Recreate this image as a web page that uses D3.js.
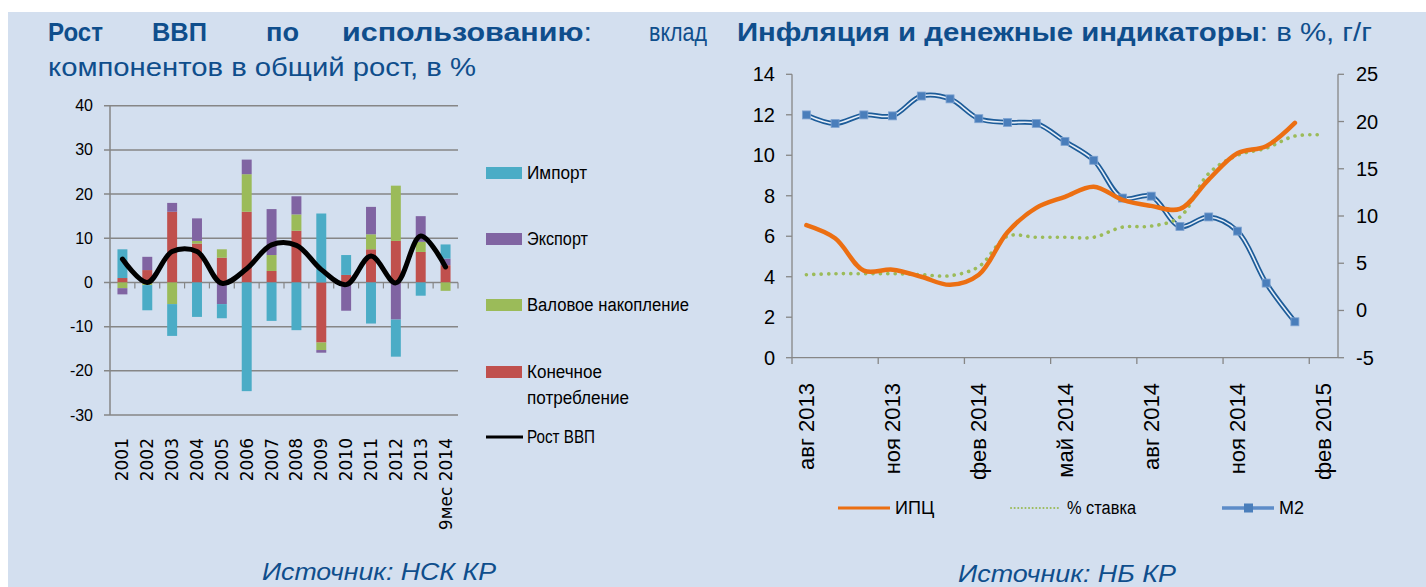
<!DOCTYPE html>
<html><head><meta charset="utf-8">
<script src="https://cdn.jsdelivr.net/npm/d3@7"></script>
<style>body{margin:0;background:#fff;overflow:hidden}</style>
</head><body>
<svg id="c" width="1426" height="587"></svg>
<script>
// ---------- Left chart data ----------
const years = ["2001","2002","2003","2004","2005","2006","2007","2008","2009","2010","2011","2012","2013","9мес 2014"];
const consumption  = [1.0, 2.8, 16.0, 8.8, 5.6, 16.0, 2.6, 11.7, -13.6, 1.7, 7.5, 9.4, 6.9, 3.9];
const accumulation = [-1.3, -0.6, -4.9, 0.6, 1.9, 8.5, 3.6, 3.7, -1.7, 0.0, 3.4, 12.5, 2.3, -1.9];
const exportC      = [-1.4, 3.0, 2.0, 5.1, -4.9, 3.3, 10.4, 4.1, -0.6, -6.4, 6.2, -8.4, 5.8, 1.5];
const importC      = [6.5, -5.7, -7.2, -7.8, -3.2, -24.6, -8.7, -10.8, 15.6, 4.5, -9.3, -8.4, -3.0, 3.2];
const gdpGrowth    = [5.3, 0.0, 7.0, 7.0, -0.2, 3.1, 8.5, 8.4, 2.9, -0.5, 6.0, -0.1, 10.5, 3.5];
const leftTicks = [-30,-20,-10,0,10,20,30,40];
const leftLegend = ["Импорт","Экспорт","Валовое накопление","Конечное потребление","Рост ВВП"];

// ---------- Right chart data ----------
const months = ["авг 2013","сен 2013","окт 2013","ноя 2013","дек 2013","янв 2014","фев 2014","мар 2014","апр 2014","май 2014","июн 2014","июл 2014","авг 2014","сен 2014","окт 2014","ноя 2014","дек 2014","янв 2015","фев 2015"];
const monthLabels = ["авг 2013","ноя 2013","фев 2014","май 2014","авг 2014","ноя 2014","фев 2015"];
const cpi  = [6.55, 5.9, 4.3, 4.35, 4.0, 3.6, 4.1, 6.2, 7.4, 7.95, 8.45, 7.8, 7.5, 7.35, 8.8, 10.1, 10.45, 11.6];
const rate = [4.1, 4.15, 4.15, 4.15, 4.1, 4.05, 4.5, 6.0, 5.95, 5.95, 5.95, 6.45, 6.5, 6.95, 9.1, 10.0, 10.35, 10.95, 11.0];
const m2   = [20.7, 19.8, 20.7, 20.6, 22.7, 22.4, 20.3, 19.9, 19.8, 17.9, 15.9, 11.9, 12.1, 8.9, 9.9, 8.4, 2.9, -1.2];
const rightLeftTicks = [0,2,4,6,8,10,12,14];
const rightRightTicks = [-5,0,5,10,15,20,25];
const rightLegend = ["ИПЦ","% ставка","M2"];

const svg = d3.select("#c");
const TITLE = "#0f4e8c", AX = "#868686";
const FONT = "'Liberation Sans', Arial, sans-serif";

svg.append("rect").attr("x",8).attr("y",12).attr("width",1418).attr("height",575).attr("fill","#d3dfef");

// ---------- Titles ----------
const t1 = svg.append("g").attr("fill",TITLE).attr("font-family",FONT).attr("font-size",26);
[["Рост",48,55],["ВВП",152,55],["по",266,33]].forEach(([w,x,l])=>t1.append("text").attr("x",x).attr("y",41).attr("font-weight","bold")
  .attr("textLength",l).attr("lengthAdjust","spacingAndGlyphs").text(w));
const tu = t1.append("text").attr("x",342).attr("y",41).attr("textLength",250).attr("lengthAdjust","spacingAndGlyphs");
tu.append("tspan").attr("font-weight","bold").text("использованию");
tu.append("tspan").text(":");
t1.append("text").attr("x",649).attr("y",41).attr("textLength",58).attr("lengthAdjust","spacingAndGlyphs").text("вклад");
t1.append("text").attr("x",48).attr("y",76).attr("textLength",428).attr("lengthAdjust","spacingAndGlyphs").text("компонентов в общий рост, в %");
const t2 = t1.append("text").attr("x",737).attr("y",41).attr("textLength",635).attr("lengthAdjust","spacingAndGlyphs");
t2.append("tspan").attr("font-weight","bold").text("Инфляция и денежные индикаторы");
t2.append("tspan").text(": в %, г/г");

// ---------- Left chart ----------
const xL = d3.scaleBand().domain(years).range([110,458]).paddingInner(0.6).paddingOuter(0.3);
const stepL = (458-110)/years.length;
const yL = d3.scaleLinear().domain([-30,40]).range([415,105.7]);
const gl = svg.append("g");
leftTicks.forEach(t=>{
  gl.append("line").attr("x1",104).attr("x2",458).attr("y1",yL(t)).attr("y2",yL(t)).attr("stroke",AX).attr("stroke-width",1.5);
  gl.append("text").attr("x",93).attr("y",yL(t)).attr("dy","0.35em").attr("text-anchor","end")
    .attr("font-family",FONT).attr("font-size",16).attr("fill","#000").text(t);
});
gl.append("line").attr("x1",110).attr("x2",110).attr("y1",yL(40)).attr("y2",yL(-30)).attr("stroke",AX).attr("stroke-width",1.5);
d3.range(years.length+1).forEach(k=>{
  gl.append("line").attr("x1",110+k*stepL).attr("x2",110+k*stepL).attr("y1",yL(0)).attr("y2",yL(0)+6).attr("stroke",AX).attr("stroke-width",1.2);
});
const rows = years.map((y,i)=>({year:y, cons:consumption[i], acc:accumulation[i], exp:exportC[i], imp:importC[i]}));
const keys = ["cons","acc","exp","imp"];
const colors = {cons:"#c0504d", acc:"#9bbb59", exp:"#8064a2", imp:"#4bacc6"};
const stacked = d3.stack().keys(keys).offset(d3.stackOffsetDiverging)(rows);
stacked.forEach(s=>{
  gl.append("g").selectAll("rect").data(s).join("rect")
    .attr("x",d=>xL(d.data.year)).attr("width",xL.bandwidth())
    .attr("y",d=>yL(Math.max(d[0],d[1]))).attr("height",d=>Math.abs(yL(d[0])-yL(d[1])))
    .attr("fill",colors[s.key]);
});
const gdpLine = d3.line().x((d,i)=>xL(years[i])+xL.bandwidth()/2).y(d=>yL(d)).curve(d3.curveCatmullRom.alpha(0.5));
gl.append("path").attr("d",gdpLine(gdpGrowth)).attr("fill","none").attr("stroke","#000").attr("stroke-width",5).attr("stroke-linecap","round");
years.forEach(y=>{
  gl.append("text").attr("transform",`translate(${xL(y)+xL.bandwidth()/2},438) rotate(-90)`)
    .attr("dy","0.35em").attr("text-anchor","end").attr("font-family","'DejaVu Sans', sans-serif").attr("font-size",17).text(y);
});
// legend
const legL = [[colors.imp,173],[colors.exp,239],[colors.acc,305],[colors.cons,372]];
legL.forEach(([c,y])=>{
  gl.append("rect").attr("x",486).attr("y",y-6).attr("width",36).attr("height",12).attr("fill",c);
});
function ltxt(x,y,s,len){const t=gl.append("text").attr("x",x).attr("y",y).attr("dy","0.35em").attr("font-family",FONT).attr("font-size",18).text(s); if(len) t.attr("textLength",len).attr("lengthAdjust","spacingAndGlyphs"); return t;}
ltxt(527,173,leftLegend[0],60);
ltxt(527,239,leftLegend[1],61);
ltxt(527,305,leftLegend[2],162);
const cp = leftLegend[3].split(" ");
ltxt(527,372,cp[0],75);
ltxt(527,398,cp[1],102);
gl.append("line").attr("x1",486).attr("x2",523).attr("y1",437).attr("y2",437).attr("stroke","#000").attr("stroke-width",3);
ltxt(527,437,leftLegend[4],68);

// ---------- Right chart ----------
const xR = d3.scaleBand().domain(months).range([792,1338]);
const cx = m => xR(m)+xR.bandwidth()/2;
const yRL = d3.scaleLinear().domain([0,14]).range([357.7,74.3]);
const yRR = d3.scaleLinear().domain([-5,25]).range([357.7,74.3]);
const gr = svg.append("g");
gr.append("line").attr("x1",792).attr("x2",792).attr("y1",74.3).attr("y2",357.7).attr("stroke",AX).attr("stroke-width",1.3);
gr.append("line").attr("x1",1338).attr("x2",1338).attr("y1",74.3).attr("y2",357.7).attr("stroke",AX).attr("stroke-width",1.3);
gr.append("line").attr("x1",792).attr("x2",1338).attr("y1",357.7).attr("y2",357.7).attr("stroke",AX).attr("stroke-width",1.3);
rightLeftTicks.forEach(t=>{
  gr.append("line").attr("x1",786).attr("x2",792).attr("y1",yRL(t)).attr("y2",yRL(t)).attr("stroke",AX).attr("stroke-width",1.3);
  gr.append("text").attr("x",775).attr("y",yRL(t)).attr("dy","0.35em").attr("text-anchor","end").attr("font-family",FONT).attr("font-size",20).text(t);
});
rightRightTicks.forEach(t=>{
  gr.append("line").attr("x1",1338).attr("x2",1344).attr("y1",yRR(t)).attr("y2",yRR(t)).attr("stroke",AX).attr("stroke-width",1.3);
  gr.append("text").attr("x",1356).attr("y",yRR(t)).attr("dy","0.35em").attr("font-family",FONT).attr("font-size",20).text(t);
});
months.forEach((m,i)=>{
  if(i%3===0) gr.append("line").attr("x1",xR(m)).attr("x2",xR(m)).attr("y1",357.7).attr("y2",364).attr("stroke",AX).attr("stroke-width",1.3);
});
monthLabels.forEach(m=>{
  gr.append("text").attr("transform",`translate(${cx(m)},383) rotate(-90)`).attr("dy","0.35em").attr("text-anchor","end")
    .attr("font-family",FONT).attr("font-size",22).text(m);
});
const curve = d3.curveCatmullRom.alpha(0.5);
const lineL = d3.line().x((d,i)=>cx(months[i])).y(d=>yRL(d)).curve(curve);
const lineR = d3.line().x((d,i)=>cx(months[i])).y(d=>yRR(d)).curve(curve);
gr.append("path").attr("d",lineR(m2)).attr("fill","none").attr("stroke","#1d5c99").attr("stroke-width",5);
gr.append("path").attr("d",lineR(m2)).attr("fill","none").attr("stroke","#e6eef8").attr("stroke-width",1.6);
gr.append("g").selectAll("rect").data(m2).join("rect")
  .attr("x",(d,i)=>cx(months[i])-4).attr("y",d=>yRR(d)-4).attr("width",8).attr("height",8)
  .attr("fill","#4a7ebb").attr("stroke","#7fa3d1").attr("stroke-width",0.8);
gr.append("path").attr("d",lineL(rate)).attr("fill","none").attr("stroke","#9bbb59").attr("stroke-width",3.6)
  .attr("stroke-dasharray","0.1 7.3").attr("stroke-linecap","round");
gr.append("path").attr("d",lineL(cpi)).attr("fill","none").attr("stroke","#ec6f12").attr("stroke-width",4.5).attr("stroke-linecap","round");
// legend
const ly = 508;
gr.append("line").attr("x1",838).attr("x2",890).attr("y1",ly).attr("y2",ly).attr("stroke","#ec6f12").attr("stroke-width",3);
gr.append("text").attr("x",895).attr("y",ly).attr("dy","0.35em").attr("font-family",FONT).attr("font-size",18).text(rightLegend[0]);
gr.append("line").attr("x1",1011).attr("x2",1061).attr("y1",ly).attr("y2",ly).attr("stroke","#9bbb59").attr("stroke-width",2)
  .attr("stroke-dasharray","0.1 3.5").attr("stroke-linecap","round");
gr.append("text").attr("x",1067).attr("y",ly).attr("dy","0.35em").attr("font-family",FONT).attr("font-size",18).attr("textLength",69).attr("lengthAdjust","spacingAndGlyphs").text(rightLegend[1]);
gr.append("line").attr("x1",1222).attr("x2",1274).attr("y1",ly).attr("y2",ly).attr("stroke","#5d8cc8").attr("stroke-width",3.5);
gr.append("rect").attr("x",1244).attr("y",ly-4.5).attr("width",9).attr("height",9).attr("fill","#4a7ebb");
gr.append("text").attr("x",1279).attr("y",ly).attr("dy","0.35em").attr("font-family",FONT).attr("font-size",18).text(rightLegend[2]);

// ---------- Sources ----------
svg.append("text").attr("x",262).attr("y",580).attr("font-family",FONT).attr("font-style","italic").attr("font-size",24)
  .attr("fill",TITLE).attr("textLength",234).attr("lengthAdjust","spacingAndGlyphs").text("Источник: НСК КР");
svg.append("text").attr("x",958).attr("y",582).attr("font-family",FONT).attr("font-style","italic").attr("font-size",24)
  .attr("fill",TITLE).attr("textLength",218).attr("lengthAdjust","spacingAndGlyphs").text("Источник: НБ КР");
</script>
</body></html>
